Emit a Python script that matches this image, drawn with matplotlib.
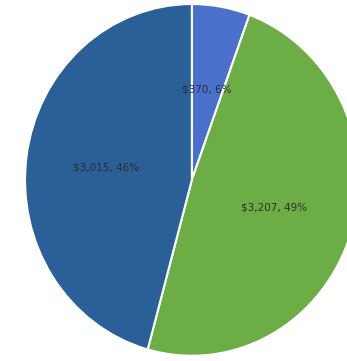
import matplotlib
matplotlib.use("Agg")
import matplotlib.pyplot as plt

# Spending split, starting at 12 o'clock and going clockwise
categories = ["Other", "Operations", "Payroll"]
amounts = [370, 3207, 3015]
colors = ["#4a70cc", "#6cad45", "#2a5f97"]

total = sum(amounts)
labels = [f"${v:,}, {round(v / total * 100):d}%" for v in amounts]

fig = plt.figure(figsize=(3.47, 3.61), dpi=100)
ax = fig.add_axes([0, 0, 1, 1])

wedges, texts = ax.pie(
    amounts,
    labels=labels,
    colors=colors,
    startangle=90,
    counterclock=False,
    labeldistance=0.52,
    wedgeprops=dict(edgecolor="white", linewidth=1.5),
    textprops=dict(fontsize=7.5, color="#2e2e2e", ha="center", va="center"),
)

ax.set_aspect("auto")
ax.set_xlim(-1.15, 0.93)
ax.set_ylim(-1.03, 1.023)
ax.axis("off")

fig.savefig("out.png", dpi=100, facecolor="white")
